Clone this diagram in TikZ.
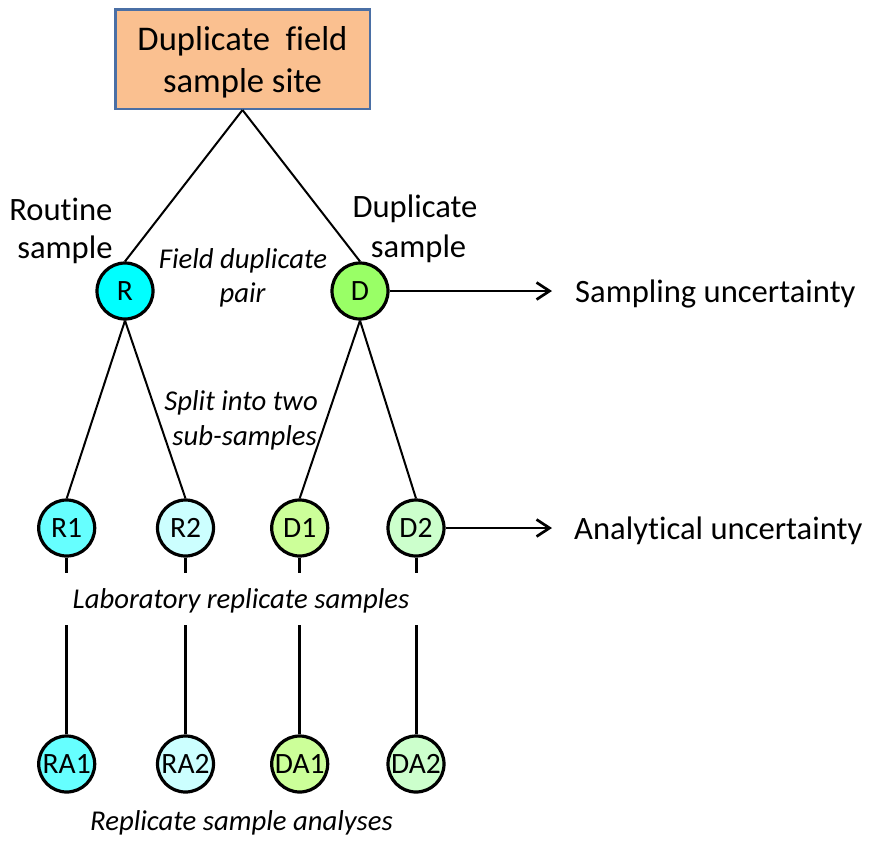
\documentclass[tikz,border=0pt]{standalone}
\usepackage{fontspec}
\setmainfont[Ligatures=NoCommon]{Carlito}
\usetikzlibrary{arrows.meta}
\definecolor{boxfill}{HTML}{FAC090}
\definecolor{boxline}{HTML}{4A6FA5}
\definecolor{cR}{HTML}{00FFFF}
\definecolor{cD}{HTML}{99FF66}
\definecolor{cRone}{HTML}{66FFFF}
\definecolor{cRtwo}{HTML}{CCFFFF}
\definecolor{cDone}{HTML}{CCFF99}
\definecolor{cDtwo}{HTML}{CCFFCC}
\tikzset{
  samp/.style={circle, draw=black, line width=3.2pt, minimum size=56pt, inner sep=0pt,
    font=\fontsize{29.5}{34}\selectfont},
  txt/.style={inner sep=0pt, font=\fontsize{32.6}{38}\selectfont},
  itxt/.style={inner sep=0pt, font=\fontsize{28.7}{34}\selectfont\itshape},
  thinline/.style={line width=2pt},
  thickline/.style={line width=3pt},
  arr/.style={line width=2.7pt, -{Straight Barb[length=13pt,width=17pt,line width=2.7pt]}},
}
\begin{document}
\begin{tikzpicture}[x=1pt,y=-1pt]
\useasboundingbox (0,0) rectangle (872,841);
% top box
\node[draw=boxline, fill=boxfill, line width=2.5pt, minimum width=254.5pt, minimum height=99.5pt, inner sep=0pt] (site) at (242.5,59) {};
\node[inner sep=0pt, anchor=base, font=\fontsize{34.6}{41.5}\selectfont] (siteA) at (242.5,50) {Duplicate\ \ field};
\node[inner sep=0pt, anchor=base, font=\fontsize{34.6}{41.5}\selectfont] (siteB) at (242.5,92) {sample site};
% circles
\node[samp, fill=cR] (R) at (125,291) {R};
\node[samp, fill=cD] (D) at (360,291) {D};
\node[samp, fill=cRone] (R1) at (66.7,528) {R1};
\node[samp, fill=cRtwo] (R2) at (185.5,528) {R2};
\node[samp, fill=cDone] (D1) at (299.7,528) {D1};
\node[samp, fill=cDtwo] (D2) at (416,528) {D2};
\node[samp, fill=cRone] (RA1) at (66.7,764) {RA1};
\node[samp, fill=cRtwo] (RA2) at (185.5,764) {RA2};
\node[samp, fill=cDone] (DA1) at (299.7,764) {DA1};
\node[samp, fill=cDtwo] (DA2) at (416,764) {DA2};
% connectors
\draw[thinline] (site.south) -- (R.north);
\draw[thinline] (site.south) -- (D.north);
\draw[thinline] (R.south) -- (R1.north);
\draw[thinline] (R.south) -- (R2.north);
\draw[thinline] (D.south) -- (D1.north);
\draw[thinline] (D.south) -- (D2.north);
\foreach \n/\m/\xx in {R1/RA1/66.7, R2/RA2/185.5, D1/DA1/299.7, D2/DA2/416}{
  \coordinate (\n a) at (\xx,573);
  \coordinate (\n b) at (\xx,625);
  \draw[thickline] (\n.south) -- (\n a);
  \draw[thickline] (\n b) -- (\m.north);
}
\coordinate (sa) at (552,291);
\coordinate (aa) at (552,528);
\draw[arr] (D.east) -- (sa);
\draw[arr] (D2.east) -- (aa);
% labels
\node[txt, anchor=base west] (su) at (575,302) {Sampling uncertainty};
\node[txt, anchor=base west] (au) at (574,539) {Analytical uncertainty};
\node[txt, anchor=base east] (rsA) at (112.7,220) {Routine};
\node[txt, anchor=base east] (rsB) at (112.7,258) {sample};
\node[txt, anchor=base] (dsA) at (415,217) {Duplicate};
\node[txt, anchor=base] (dsB) at (418.6,257) {sample};
\node[itxt, anchor=base] (fdA) at (243,268) {Field duplicate};
\node[itxt, anchor=base] (fdB) at (242.5,302) {pair};
\node[itxt, anchor=base east] (spA) at (318,410) {Split into two};
\node[itxt, anchor=base east] (spB) at (317,445) {sub-samples};
\node[itxt, anchor=base] (lab) at (241,608) {Laboratory replicate samples};
\node[itxt, anchor=base] (rep) at (241.5,830) {Replicate sample analyses};
\end{tikzpicture}
\end{document}
